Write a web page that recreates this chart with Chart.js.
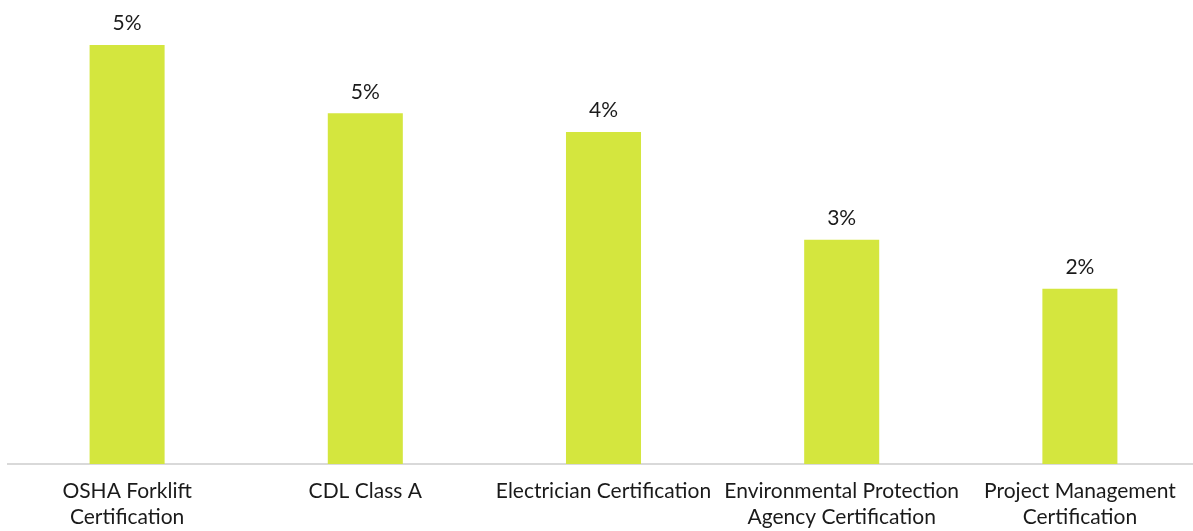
<!DOCTYPE html>
<html>
<head>
<meta charset="utf-8">
<script src="https://cdn.jsdelivr.net/npm/chart.js@4/dist/chart.umd.min.js"></script>
<style>
  html, body { margin: 0; padding: 0; background: #ffffff; overflow: hidden; }
  #wrap { width: 1199px; height: 531px; position: relative; }
</style>
</head>
<body>
<div id="wrap"><canvas id="c"></canvas></div>
<script>
const categories = [
  ["OSHA Forklift", "Certification"],
  ["CDL Class A"],
  ["Electrician Certification"],
  ["Environmental Protection", "Agency Certification"],
  ["Project Management", "Certification"]
];
const values = [5.4, 4.52, 4.28, 2.89, 2.26];
const barColor = "#d4e63e";
const fontFamily = "Lato, 'Noto Sans', sans-serif";

const valueLabels = {
  id: "valueLabels",
  afterDatasetsDraw(chart) {
    const ctx = chart.ctx;
    const meta = chart.getDatasetMeta(0);
    ctx.save();
    ctx.font = "21px " + fontFamily;
    ctx.fillStyle = "#1a1a1a";
    ctx.textAlign = "center";
    ctx.textBaseline = "bottom";
    meta.data.forEach((bar, i) => {
      ctx.fillText(Math.round(values[i]) + "%", bar.x, bar.y - 11);
    });
    ctx.restore();
  }
};

new Chart(document.getElementById("c"), {
  type: "bar",
  data: {
    labels: categories,
    datasets: [{
      data: values,
      backgroundColor: barColor,
      barPercentage: 0.315,
      categoryPercentage: 1.0
    }]
  },
  options: {
    responsive: true,
    maintainAspectRatio: false,
    animation: false,
    layout: { padding: { left: 8, right: 0, top: 0, bottom: 0 } },
    plugins: { legend: { display: false }, tooltip: { enabled: false } },
    scales: {
      x: {
        grid: { display: false, drawTicks: false },
        border: { display: true, color: "#d9d9d9", width: 2 },
        ticks: {
          color: "#1a1a1a",
          font: { family: fontFamily, size: 21, lineHeight: 1.2 },
          padding: 15,
          maxRotation: 0,
          autoSkip: false
        },
        afterFit(scale) { scale.height = 67; }
      },
      y: {
        display: false,
        min: 0,
        max: 5.98
      }
    }
  },
  plugins: [valueLabels]
});
</script>
</body>
</html>
